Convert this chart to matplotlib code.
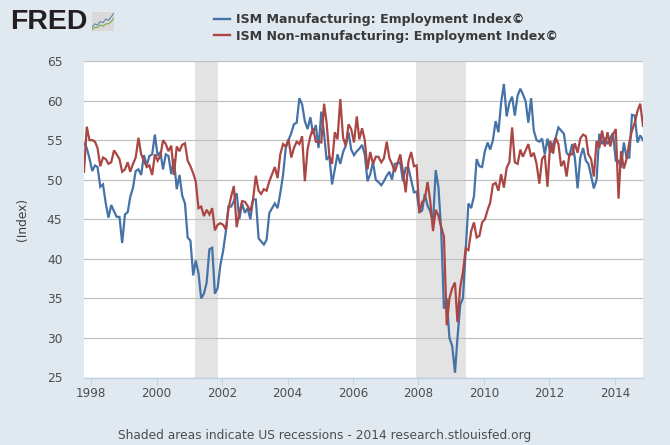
import matplotlib
matplotlib.use("Agg")
import matplotlib.pyplot as plt
import matplotlib.dates as mdates
import numpy as np
import pandas as pd
from matplotlib.lines import Line2D

W, H = 670, 445
start_month = "1997-10-12"

manufacturing = [
 54.6,54.0,52.7,51.1,51.8,51.6,49.1,49.4,47.0,45.2,46.8,46.0,45.3,45.3,42.0,45.6,45.9,47.8,49.0,51.1,
 51.3,50.6,53.1,51.8,53.0,53.2,55.7,53.0,53.5,51.3,53.2,53.0,50.7,52.6,48.8,50.6,48.0,47.0,42.7,42.3,
 37.9,39.8,38.2,35.0,35.6,37.0,41.2,41.4,35.6,36.3,39.2,41.0,43.5,46.6,46.6,47.3,48.3,45.0,47.0,45.8,
 46.4,45.0,47.5,47.5,42.6,42.2,41.8,42.4,45.8,46.4,47.0,46.4,48.3,50.6,54.0,55.0,55.9,57.0,57.2,60.3,
 59.5,57.4,56.4,57.9,55.8,56.9,54.0,58.6,55.8,52.5,53.0,49.4,51.3,53.2,52.0,53.5,54.3,56.0,53.8,53.1,
 53.6,53.9,54.4,53.2,49.8,50.7,52.2,50.0,49.7,49.3,49.8,50.5,51.0,50.0,52.0,52.1,52.2,49.8,51.5,51.5,
 50.0,48.4,48.5,45.9,46.1,48.2,46.7,46.0,44.6,51.2,49.0,43.4,33.7,35.0,30.0,29.0,25.6,30.0,34.2,35.0,
 41.0,47.0,46.4,47.9,52.6,51.7,51.6,53.6,54.7,53.8,55.0,57.4,56.0,59.7,62.1,58.0,59.7,60.5,58.1,60.6,
 61.5,60.8,59.9,57.2,60.3,56.2,55.0,54.8,55.2,53.2,55.2,53.4,54.5,55.3,56.6,56.2,55.8,53.4,53.0,54.5,
 52.8,48.9,52.8,54.0,52.4,52.0,50.5,48.9,50.0,55.8,54.5,55.3,54.5,55.3,55.9,52.4,52.4,51.5,54.7,52.8,
 52.8,58.2,58.1,54.7,55.6,55.0]

non_manufacturing = [
 51.0,56.7,55.0,55.0,54.8,54.0,51.7,52.8,52.6,52.0,52.2,53.7,53.2,52.6,51.0,51.3,52.2,51.0,52.0,52.8,
 55.3,53.2,52.4,51.6,51.8,50.6,53.2,52.4,53.0,55.0,54.5,53.6,54.3,50.6,54.2,53.6,54.4,54.6,52.4,51.7,
 50.8,49.8,46.4,46.6,45.4,46.2,45.6,46.4,43.6,44.3,44.5,44.3,43.7,46.3,47.9,49.2,44.0,45.8,47.3,47.2,
 46.7,46.0,47.5,50.5,48.6,48.2,48.8,48.6,49.8,50.7,51.6,50.2,53.2,54.5,54.2,55.1,52.8,54.0,54.8,54.5,
 55.5,49.8,53.9,55.5,56.5,54.8,54.8,54.7,59.6,57.2,53.0,52.0,56.0,55.1,60.2,55.3,54.3,57.0,56.4,54.7,
 58.0,55.1,56.5,55.0,51.3,53.5,52.0,52.9,52.9,52.2,52.7,54.8,52.7,52.0,51.0,52.0,53.2,51.0,48.4,52.3,
 53.5,51.7,51.8,45.8,47.2,47.5,49.7,47.3,43.5,46.2,45.4,44.0,42.8,31.6,35.0,36.3,37.0,32.0,36.4,38.3,
 41.3,41.1,43.5,44.6,42.7,42.9,44.6,45.0,46.2,47.1,49.4,49.6,48.6,50.7,49.0,51.5,52.2,56.6,52.2,52.0,
 53.8,52.9,53.7,54.5,52.9,53.4,52.0,49.5,52.6,53.1,49.1,54.9,53.3,55.3,54.5,51.7,52.4,50.4,53.2,53.2,
 54.6,53.4,55.2,55.7,55.5,53.2,52.6,50.4,54.9,54.0,56.2,54.2,56.0,54.2,55.7,56.4,47.6,53.6,51.4,52.6,
 54.7,56.2,57.2,58.7,59.6,56.8]

recessions = [("2001-03-01", "2001-11-15"), ("2007-12-01", "2009-06-15")]
year_ticks = list(range(1998, 2015, 2))
y_ticks = [25, 30, 35, 40, 45, 50, 55, 60, 65]
series_names = ["ISM Manufacturing: Employment Index©", "ISM Non-manufacturing: Employment Index©"]
icon_blue = [3, 6, 5, 8, 7, 10, 9, 12, 15]
icon_green = [1, 3, 3, 5, 4, 6, 6, 8, 11]

BG = "#e1e9f0"; BLUE = "#4572a7"; RED = "#aa4643"; TXT = "#4d4d4d"

fig = plt.figure(figsize=(W/100, H/100), dpi=100, facecolor=BG)
L, R, T, B = 84, 643, 61, 377.5
ax = fig.add_axes([L/W, 1-B/H, (R-L)/W, (B-T)/H], facecolor="white")

dates = pd.date_range(start_month, periods=len(manufacturing), freq=pd.DateOffset(months=1))
for a, b in recessions:
    ax.axvspan(pd.Timestamp(a), pd.Timestamp(b), color="#e3e3e3", lw=0, zorder=1)
ax.set_yticks(y_ticks)
ax.grid(axis="y", color="#bfbfbf", lw=0.85, zorder=2)
ax.set_axisbelow(False)
for v, c in ((manufacturing, BLUE), (non_manufacturing, RED)):
    ax.plot(dates, v, color=c, lw=1.6, solid_joinstyle="miter", zorder=3)

ax.set_ylim(25, 65)
ax.set_xlim(dates[0], dates[-1])
ax.set_xticks([pd.Timestamp(f"{y}-01-01") for y in year_ticks])
ax.xaxis.set_major_formatter(mdates.DateFormatter("%Y"))
for s in ("left", "right", "top"):
    ax.spines[s].set_visible(False)
ax.spines["bottom"].set_color("#c0d0e0")
ax.spines["bottom"].set_linewidth(1)
ax.tick_params(axis="y", length=0, pad=15.5, labelsize=8.8, labelcolor=TXT)
ax.tick_params(axis="x", length=5, width=0.8, color="#c0d0e0", pad=2, labelsize=8.6, labelcolor=TXT)
ax.set_ylabel("(Index)", fontsize=8.8, color="#3f3f3f")
ax.yaxis.set_label_coords((29-L)/(R-L), 0.5)

handles = [Line2D([], [], color=BLUE, lw=1.7), Line2D([], [], color=RED, lw=1.7)]
fig.legend(handles, series_names, loc="center left", bbox_to_anchor=(214/W, 1-28/H),
           frameon=False, handlelength=1.3, handletextpad=0.42, labelspacing=0.27,
           prop=dict(weight="bold", size=9.05), labelcolor="#3a3a3a", borderpad=0, borderaxespad=0)

fig.text(325/W, 1-436/H, "Shaded areas indicate US recessions - 2014 research.stlouisfed.org",
         ha="center", va="center", fontsize=8.85, color=TXT)
fig.text(10/W, 1-22/H, "FRED", ha="left", va="center", fontsize=20.5, weight="bold",
         family="Liberation Sans", color="#231f20")

ic = fig.add_axes([92/W, 1-31/H, 22/W, 19/H], facecolor="#d9d9d9")
ic.plot(icon_blue, color="#5f86b0", lw=0.8)
ic.plot(icon_green, color="#7fa84a", lw=0.8)
ic.set_xlim(0, 8); ic.set_ylim(0, 16)
ic.set_xticks([]); ic.set_yticks([])
for s in ic.spines.values():
    s.set_visible(False)

fig.savefig("out.png", dpi=100, facecolor=BG)
